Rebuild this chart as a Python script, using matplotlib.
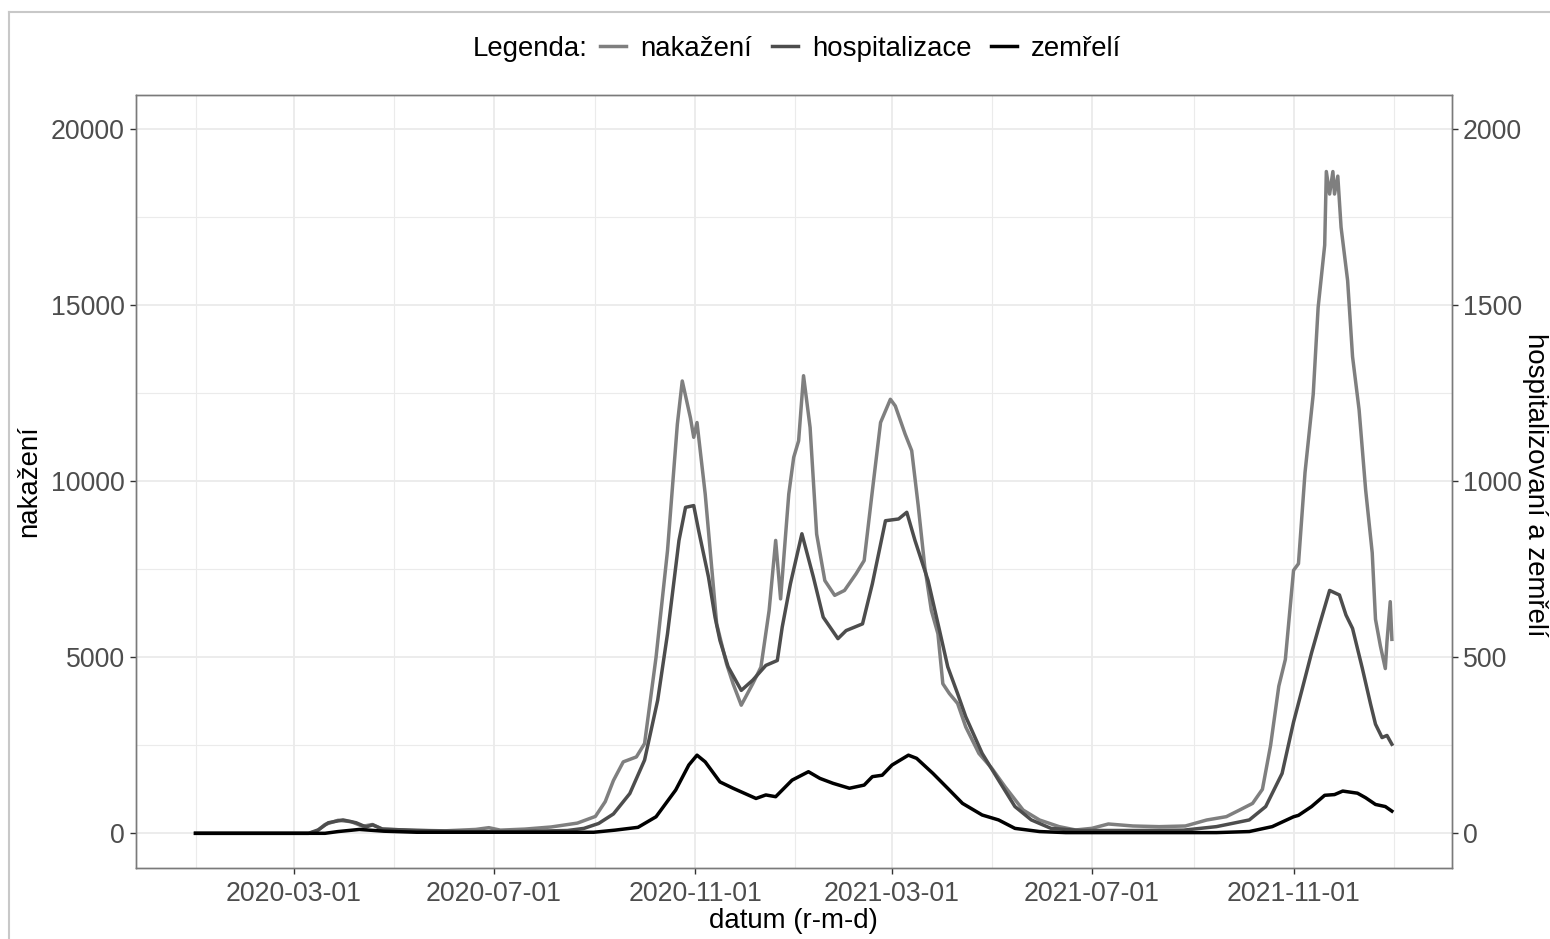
import matplotlib
matplotlib.use("Agg")
import matplotlib.pyplot as plt
from matplotlib.lines import Line2D
import pandas as pd

plt.rcParams['font.family'] = ['Liberation Sans', 'DejaVu Sans']

# ---------------- data ----------------
nak_dates = ["2020-01-01", "2020-03-10", "2020-03-15", "2020-03-20", "2020-03-28", "2020-04-05",
             "2020-04-12", "2020-04-18", "2020-04-24", "2020-05-10", "2020-06-01", "2020-06-20",
             "2020-06-28", "2020-07-05", "2020-07-20", "2020-08-05", "2020-08-21", "2020-09-01",
             "2020-09-07", "2020-09-12", "2020-09-18", "2020-09-26", "2020-10-01", "2020-10-08",
             "2020-10-15", "2020-10-21", "2020-10-24", "2020-10-29", "2020-10-31", "2020-11-02",
             "2020-11-07", "2020-11-14", "2020-11-20", "2020-11-24", "2020-11-29", "2020-12-06",
             "2020-12-11", "2020-12-16", "2020-12-20", "2020-12-23", "2020-12-28", "2020-12-31",
             "2021-01-03", "2021-01-06", "2021-01-10", "2021-01-14", "2021-01-19", "2021-01-25",
             "2021-01-31", "2021-02-07", "2021-02-12", "2021-02-17", "2021-02-22", "2021-02-28",
             "2021-03-03", "2021-03-09", "2021-03-13", "2021-03-17", "2021-03-21", "2021-03-25",
             "2021-03-29", "2021-04-01", "2021-04-05", "2021-04-10", "2021-04-15", "2021-04-23",
             "2021-05-01", "2021-05-09", "2021-05-20", "2021-05-30", "2021-06-11", "2021-06-21",
             "2021-07-01", "2021-07-11", "2021-07-26", "2021-08-11", "2021-08-27", "2021-09-09",
             "2021-09-21", "2021-09-29", "2021-10-07", "2021-10-13", "2021-10-18", "2021-10-23",
             "2021-10-27", "2021-11-01", "2021-11-04", "2021-11-08", "2021-11-13", "2021-11-16",
             "2021-11-20", "2021-11-21", "2021-11-23", "2021-11-25", "2021-11-26", "2021-11-28",
             "2021-11-30", "2021-12-04", "2021-12-07", "2021-12-11", "2021-12-15", "2021-12-19",
             "2021-12-21", "2021-12-24", "2021-12-27", "2021-12-28", "2021-12-30", "2021-12-31"]
nak_values = [0, 0, 60, 250, 370, 330,
              200, 250, 120, 90, 70, 110,
              160, 90, 120, 180, 290, 480,
              900, 1500, 2030, 2170, 2550, 5000,
              8030, 11620, 12850, 11800, 11250, 11670,
              9640, 5950, 4820, 4250, 3640, 4250,
              4720, 6330, 8320, 6660, 9640, 10680,
              11150, 13000, 11530, 8500, 7180, 6760,
              6900, 7370, 7750, 9730, 11670, 12330,
              12140, 11340, 10870, 9300, 7560, 6330,
              5670, 4250, 3970, 3690, 3020, 2270,
              1840, 1320, 660, 378, 189, 95,
              142, 265, 208, 189, 208, 378,
              473, 660, 850, 1250, 2500, 4180,
              4940, 7470, 7660, 10250, 12470, 14940,
              16710, 18800, 18160, 18800, 18160, 18670,
              17215, 15700, 13540, 12030, 9750, 7970,
              6080, 5320, 4680, 5440, 6580, 5510]

hosp_dates = ["2020-01-01", "2020-03-10", "2020-03-16", "2020-03-22", "2020-03-31", "2020-04-08",
              "2020-04-14", "2020-04-18", "2020-04-24", "2020-05-15", "2020-06-15", "2020-07-15",
              "2020-08-15", "2020-08-25", "2020-09-03", "2020-09-12", "2020-09-22", "2020-10-01",
              "2020-10-09", "2020-10-15", "2020-10-22", "2020-10-26", "2020-10-31", "2020-11-03",
              "2020-11-09", "2020-11-13", "2020-11-16", "2020-11-21", "2020-11-29", "2020-12-06",
              "2020-12-14", "2020-12-21", "2020-12-24", "2020-12-29", "2021-01-05", "2021-01-12",
              "2021-01-18", "2021-01-27", "2021-02-01", "2021-02-11", "2021-02-17", "2021-02-25",
              "2021-03-05", "2021-03-10", "2021-03-15", "2021-03-23", "2021-03-30", "2021-04-04",
              "2021-04-10", "2021-04-15", "2021-04-25", "2021-05-05", "2021-05-15", "2021-05-25",
              "2021-06-06", "2021-06-24", "2021-07-26", "2021-08-26", "2021-09-15", "2021-10-05",
              "2021-10-15", "2021-10-25", "2021-11-01", "2021-11-06", "2021-11-12", "2021-11-17",
              "2021-11-23", "2021-11-29", "2021-12-03", "2021-12-07", "2021-12-13", "2021-12-18",
              "2021-12-21", "2021-12-25", "2021-12-28", "2021-12-31"]
hosp_values = [0, 0, 10, 30, 38, 30,
               18, 24, 12, 8, 5, 5,
               8, 14, 28, 55, 113, 208,
               378, 567, 832, 926, 931, 860,
               728, 614, 548, 473, 406, 435,
               477, 491, 586, 709, 851, 728,
               614, 553, 576, 595, 709, 888,
               893, 912, 832, 718, 576, 473,
               397, 331, 227, 151, 76, 38,
               14, 8, 8, 9, 19, 38,
               76, 170, 316, 405, 513, 595,
               690, 677, 620, 582, 468, 367,
               310, 272, 278, 253]

dead_dates = ["2020-01-01", "2020-03-20", "2020-03-28", "2020-04-10", "2020-04-25", "2020-05-15",
              "2020-08-31", "2020-09-13", "2020-09-27", "2020-10-08", "2020-10-20", "2020-10-28",
              "2020-11-02", "2020-11-07", "2020-11-16", "2020-11-24", "2020-12-08", "2020-12-14",
              "2020-12-20", "2020-12-30", "2021-01-09", "2021-01-16", "2021-01-24", "2021-02-03",
              "2021-02-12", "2021-02-17", "2021-02-23", "2021-03-01", "2021-03-11", "2021-03-16",
              "2021-03-26", "2021-04-05", "2021-04-13", "2021-04-25", "2021-05-05", "2021-05-15",
              "2021-05-30", "2021-06-15", "2021-09-15", "2021-10-05", "2021-10-19", "2021-11-01",
              "2021-11-04", "2021-11-12", "2021-11-20", "2021-11-26", "2021-12-01", "2021-12-10",
              "2021-12-15", "2021-12-21", "2021-12-27", "2021-12-31"]
dead_values = [0, 0, 5, 11, 6, 3,
               3, 9, 17, 47, 123, 194,
               222, 203, 146, 128, 99, 109,
               104, 151, 175, 156, 142, 128,
               137, 161, 165, 194, 222, 213,
               170, 123, 85, 52, 38, 14,
               5, 2, 2, 5, 19, 47,
               51, 76, 108, 110, 120, 114,
               101, 82, 76, 63]

series_labels = ["nakažení", "hospitalizace", "zemřelí"]
series_colors = ["#7F7F7F", "#4D4D4D", "#000000"]

left_ticks = [0, 5000, 10000, 15000, 20000]
right_ticks = [0, 500, 1000, 1500, 2000]
x_tick_labels = ["2020-03-01", "2020-07-01", "2020-11-01", "2021-03-01", "2021-07-01", "2021-11-01"]

# ---------------- figure ----------------
W, H = 1550, 939
fig = plt.figure(figsize=(W / 100, H / 100), dpi=100)
fig.patch.set_facecolor("white")

L, R, T, B = 135.7, 1451.7, 94.7, 868.3
ax = fig.add_axes([L / W, 1 - B / H, (R - L) / W, (B - T) / H])
ax2 = ax.twinx()

TICK = 19.2
TXT = 19.9
LW = 2.5

nd = pd.to_datetime(nak_dates)
hd = pd.to_datetime(hosp_dates)
dd = pd.to_datetime(dead_dates)

ax.plot(nd, nak_values, color=series_colors[0], lw=LW, solid_joinstyle="round", zorder=3)
ax2.plot(hd, hosp_values, color=series_colors[1], lw=LW, solid_joinstyle="round", zorder=3)
ax2.plot(dd, dead_values, color=series_colors[2], lw=LW, solid_joinstyle="round", zorder=4)

# limits
start = pd.Timestamp(nak_dates[0]); end = pd.Timestamp(nak_dates[-1])
pad = (end - start) * 0.05
ax.set_xlim(start - pad, end + pad)
ylo, yhi = -994, 20983
ax.set_ylim(ylo, yhi)
ax2.set_ylim(ylo / 10, yhi / 10)

# ticks
ax.set_xticks(pd.to_datetime(x_tick_labels))
ax.set_xticklabels(x_tick_labels)
minor_x = pd.to_datetime(["2020-01-01", "2020-05-01", "2020-09-01", "2021-01-01",
                          "2021-05-01", "2021-09-01", "2022-01-01"])
ax.set_xticks(minor_x, minor=True)
ax.set_yticks(left_ticks)
ax.set_yticklabels([str(v) for v in left_ticks])
ax.set_yticks([2500, 7500, 12500, 17500], minor=True)
ax2.set_yticks(right_ticks)
ax2.set_yticklabels([str(v) for v in right_ticks])

grid_c = "#EBEBEB"
ax.grid(which="major", color=grid_c, lw=1.3, zorder=0)
ax.grid(which="minor", color=grid_c, lw=0.8, zorder=0)
ax.set_axisbelow(True)

for a in (ax, ax2):
    a.tick_params(which="major", length=4, width=1.0, color="#333333",
                  labelsize=TICK, labelcolor="#4D4D4D", pad=4)
    a.tick_params(which="minor", length=0)
    for s in a.spines.values():
        s.set_color("#7A7A7A")
        s.set_linewidth(1.0)
ax.tick_params(axis="x", pad=5)

ax.set_xlabel("")
ax.set_ylabel("")
fig.text((L + R) / 2 / W, 1 - 921 / H, "datum (r-m-d)", ha="center", va="center",
         fontsize=TXT, color="black")
fig.text(29.5 / W, 1 - (T + B) / 2 / H, "nakažení", ha="center", va="center",
         rotation=90, fontsize=TXT, color="black")
fig.text(1535.5 / W, 1 - 485 / H, "hospitalizovaní a zemřelí", ha="center", va="center",
         rotation=-90, fontsize=TXT, color="black")

# legend
LEG_Y = 49
fig.text(473 / W, 1 - LEG_Y / H, "Legenda:", ha="left", va="center", fontsize=TXT, color="black")
handles = [Line2D([], [], color=c, lw=LW) for c in series_colors]
fig.legend(handles, series_labels, loc="center left", bbox_to_anchor=(600 / W, 1 - LEG_Y / H),
           ncol=3, frameon=False, fontsize=TXT, handlelength=0.94, handletextpad=0.52,
           columnspacing=0.7, borderpad=0, borderaxespad=0)

# outer frame of the image
fig.add_artist(Line2D([9 / W, 9 / W], [0, 1 - 12 / H], transform=fig.transFigure,
                      color="#C8C8C8", lw=1.5))
fig.add_artist(Line2D([9 / W, 1], [1 - 12 / H, 1 - 12 / H], transform=fig.transFigure,
                      color="#C8C8C8", lw=1.5))

fig.savefig("out.png", dpi=100)
